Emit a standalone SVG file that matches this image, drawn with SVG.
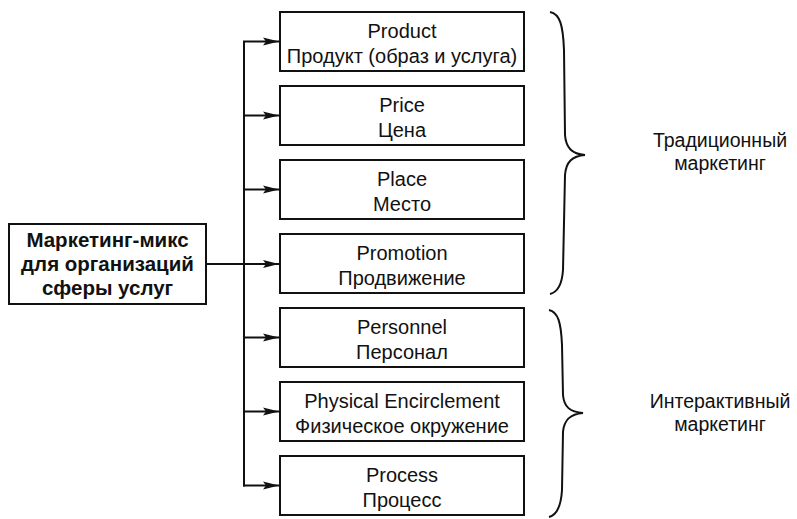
<svg xmlns="http://www.w3.org/2000/svg" width="797" height="519" viewBox="0 0 797 519">
<style>
  .box { fill: #fff; stroke: #111; stroke-width: 2; }
  .t { font-family: "Liberation Sans", Arial, sans-serif; font-size: 20px; fill: #111; text-anchor: middle; }
  .b { font-weight: bold; font-size: 20.5px; }
  .lb { font-size: 19.5px; }
  .ln { fill: none; stroke: #111; stroke-width: 2; }
  .br { fill: none; stroke: #111; stroke-width: 2; }
</style>
<defs>
  <marker id="ah" viewBox="0 0 16 10" refX="16" refY="5" markerWidth="16" markerHeight="10" markerUnits="userSpaceOnUse" orient="auto">
    <path d="M0,1 L16,5 L0,9 L3,5 Z" fill="#111"/>
  </marker>
</defs>
<rect width="797" height="519" fill="#fff"/>

<g id="connectors">
  <line class="ln" x1="206" y1="264" x2="279" y2="264" marker-end="url(#ah)"/>
  <line class="ln" x1="244" y1="41.5" x2="244" y2="486.5"/>
  <line class="ln" x1="243" y1="41.5" x2="279" y2="41.5" marker-end="url(#ah)"/>
  <line class="ln" x1="243" y1="115.5" x2="279" y2="115.5" marker-end="url(#ah)"/>
  <line class="ln" x1="243" y1="189.5" x2="279" y2="189.5" marker-end="url(#ah)"/>
  <line class="ln" x1="243" y1="337.5" x2="279" y2="337.5" marker-end="url(#ah)"/>
  <line class="ln" x1="243" y1="411.5" x2="279" y2="411.5" marker-end="url(#ah)"/>
  <line class="ln" x1="243" y1="485.5" x2="279" y2="485.5" marker-end="url(#ah)"/>
</g>

<g id="main">
  <rect class="box" x="9" y="224" width="197" height="80"/>
  <text class="t b" x="107.5" y="247">Маркетинг-микс</text>
  <text class="t b" x="107.5" y="271">для организаций</text>
  <text class="t b" x="107.5" y="295">сферы услуг</text>
</g>

<g id="product">
  <rect class="box" x="280" y="12" width="244" height="59"/>
  <text class="t" x="402" y="38">Product</text>
  <text class="t" x="402" y="63">Продукт (образ и услуга)</text>
</g>
<g id="price">
  <rect class="box" x="280" y="86" width="244" height="59"/>
  <text class="t" x="402" y="112">Price</text>
  <text class="t" x="402" y="137">Цена</text>
</g>
<g id="place">
  <rect class="box" x="280" y="160" width="244" height="59"/>
  <text class="t" x="402" y="186">Place</text>
  <text class="t" x="402" y="211">Место</text>
</g>
<g id="promotion">
  <rect class="box" x="280" y="234" width="244" height="59"/>
  <text class="t" x="402" y="260">Promotion</text>
  <text class="t" x="402" y="285">Продвижение</text>
</g>
<g id="personnel">
  <rect class="box" x="280" y="308" width="244" height="59"/>
  <text class="t" x="402" y="334">Personnel</text>
  <text class="t" x="402" y="359">Персонал</text>
</g>
<g id="physical">
  <rect class="box" x="280" y="382" width="244" height="59"/>
  <text class="t" x="402" y="408">Physical Encirclement</text>
  <text class="t" x="402" y="433">Физическое окружение</text>
</g>
<g id="process">
  <rect class="box" x="280" y="456" width="244" height="59"/>
  <text class="t" x="402" y="482">Process</text>
  <text class="t" x="402" y="507">Процесс</text>
</g>

<g id="traditional">
  <path class="br" d="M550,12 C560,14 563,25 564,50 L565,135 C566,148 572,154 585,155 C572,156 566,162 565,175 L563,270 C562,285 558,292 550,294"/>
  <text class="t lb" x="720" y="147">Традиционный</text>
  <text class="t lb" x="720" y="170">маркетинг</text>
</g>
<g id="interactive">
  <path class="br" d="M549,310 C558,312 561,322 562,345 L563,395 C564,407 570,412 583,413 C570,414 564,420 563,432 L562,490 C561,507 557,515 549,517"/>
  <text class="t lb" x="720" y="408">Интерактивный</text>
  <text class="t lb" x="720" y="431">маркетинг</text>
</g>
</svg>
